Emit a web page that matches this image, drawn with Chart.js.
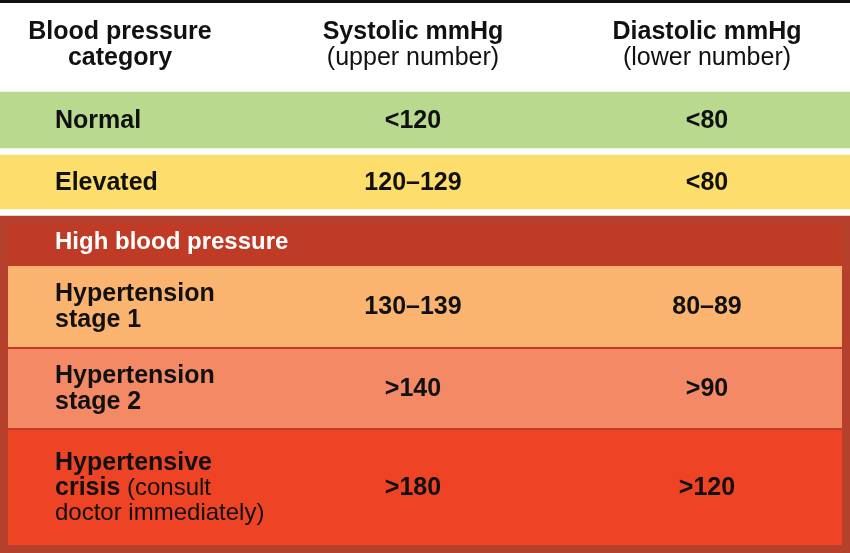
<!DOCTYPE html>
<html><head><meta charset="utf-8">
<script src="https://cdn.jsdelivr.net/npm/chart.js@4"></script>
<style>html,body{margin:0;padding:0;background:#fff}#wrap{width:850px;height:553px}</style>
</head><body><div id="wrap"><canvas id="bp"></canvas></div>
<script>
// BLOOD PRESSURE TABLE
const categories = ['Normal', 'Elevated', 'Hypertension\nstage 1', 'Hypertension\nstage 2', 'Hypertensive\ncrisis'];
const systolic = ['<120', '120\u2013129', '130\u2013139', '>140', '>180'];
const diastolic = ['<80', '<80', '80\u201389', '>90', '>120'];
const rowTop = [92, 155, 266, 349, 430];
const rowBottom = [148, 209, 347, 428, 545];
const rowColors = ['#b9d98f', '#fddd6b', '#fbb46f', '#f48a65', '#ee4425'];
const groupTop = 216, groupBottom = 553;

const rowSets = categories.map((c, i) => ({
  label: c,
  data: [[rowTop[i], rowBottom[i]]],
  backgroundColor: rowColors[i],
  grouped: false,
  categoryPercentage: 1,
  barPercentage: i < 2 ? 1 : 834 / 850,
  order: 0
}));

const textPlugin = {
  id: 'tableText',
  afterDatasetsDraw(chart) {
    const c = chart.ctx, y = chart.scales.y;
    // top rule
    c.fillStyle = '#111';
    c.fillRect(0, 0, 850, 3);
    c.textBaseline = 'middle';
    const head = (t, x, yy, bold) => {
      c.font = (bold ? 'bold ' : '') + '25px "Liberation Sans", Arial';
      c.textAlign = 'center';
      c.fillStyle = '#111';
      c.fillText(t, x, yy);
    };
    head('Blood pressure', 120, 32, true); head('category', 120, 58, true);
    head('Systolic mmHg', 413, 32, true); head('(upper number)', 413, 58, false);
    head('Diastolic mmHg', 707, 32, true); head('(lower number)', 707, 58, false);
    c.font = 'bold 24px "Liberation Sans", Arial';
    c.fillStyle = '#fff'; c.textAlign = 'left';
    c.fillText('High blood pressure', 55, y.getPixelForValue(242));
    categories.forEach((cat, i) => {
      const mid = y.getPixelForValue((rowTop[i] + rowBottom[i]) / 2) + 1;
      const lines = cat.split('\n');
      c.fillStyle = '#111';
      c.font = 'bold 25px "Liberation Sans", Arial';
      c.textAlign = 'left';
      if (i === 4) {
        c.fillText(lines[0], 55, mid - 25);
        c.fillText(lines[1], 55, mid);
        const w = c.measureText(lines[1]).width;
        c.font = '24px "Liberation Sans", Arial';
        c.fillText(' (consult', 55 + w, mid);
        c.fillText('doctor immediately)', 55, mid + 25);
        c.font = 'bold 25px "Liberation Sans", Arial';
      } else {
        const off = (lines.length - 1) * 13;
        lines.forEach((l, k) => c.fillText(l, 55, mid - off + k * 26));
      }
      c.textAlign = 'center';
      c.fillText(systolic[i], 413, mid);
      c.fillText(diastolic[i], 707, mid);
    });
  }
};

new Chart(document.getElementById('bp'), {
  type: 'bar',
  data: {
    labels: ['table'],
    datasets: [
      { label: 'inner', data: [[groupTop + 8, groupBottom - 8]], backgroundColor: '#bf3b25', grouped: false, categoryPercentage: 1, barPercentage: 834 / 850, order: 1 },
      { label: 'group', data: [[groupTop, groupBottom]], backgroundColor: '#b5402c', grouped: false, categoryPercentage: 1, barPercentage: 1, order: 2 },
      ...rowSets
    ]
  },
  options: {
    responsive: true,
    maintainAspectRatio: false,
    animation: false,
    layout: { padding: 0 },
    plugins: { legend: { display: false }, tooltip: { enabled: false } },
    scales: {
      x: { display: false, offset: true },
      y: { display: false, min: 0, max: 553, reverse: true }
    }
  },
  plugins: [textPlugin]
});
</script></body></html>
